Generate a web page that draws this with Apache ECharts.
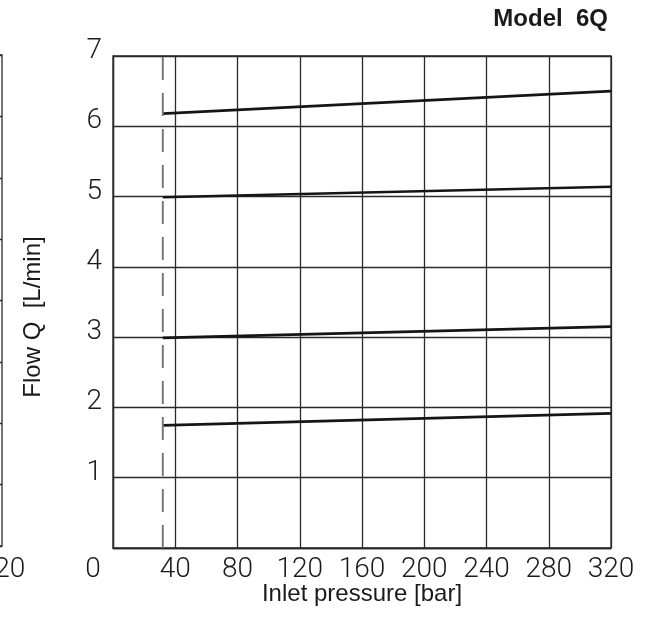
<!DOCTYPE html>
<html>
<head>
<meta charset="utf-8">
<script src="https://cdn.jsdelivr.net/npm/echarts@6/dist/echarts.min.js"></script>
<style>
html,body{margin:0;padding:0;background:#fff;}
#chart{width:645px;height:621px;}
</style>
</head>
<body>
<div id="chart"></div>
<script>
// ---- data ----
const titleText = 'Model  6Q';
const xName = 'Inlet pressure [bar]';
const yName = 'Flow Q  [L/min]';
const xTicks = [0, 40, 80, 120, 160, 200, 240, 280, 320];
const yTicks = [0, 1, 2, 3, 4, 5, 6, 7];
const pressureRange = [32, 320];
const flowA = [6.18, 6.50];
const flowB = [4.99, 5.14];
const flowC = [2.99, 3.15];
const flowD = [1.745, 1.915];
const minPressure = 32;
// neighbouring (cut-off) chart at the left edge
const neighbourXMax = 120;
const neighbourYMax = 8;

const tickFont = 'Roboto';
const textFont = '"Liberation Sans", Arial, sans-serif';
const gridColor = '#2a2a2a';

function curve(vals) { return pressureRange.map((p, i) => [p, vals[i]]); }
const lineStyle = { color: '#151515', width: 2.6 };
const tickText = { fontFamily: tickFont, fontWeight: 300, fontSize: 28, color: '#1a1a1a' };

const chart = echarts.init(document.getElementById('chart'), null, { renderer: 'canvas' });
chart.setOption({
  animation: false,
  backgroundColor: '#fff',
  title: {
    text: titleText, right: 32, top: 2,
    textStyle: { fontFamily: textFont, fontWeight: 'bold', fontSize: 24, color: '#1a1a1a' }
  },
  grid: [
    { left: 113, right: 34, top: 56, bottom: 73, show: true, borderColor: gridColor, borderWidth: 1.3, outerBoundsMode: 'none', containLabel: false },
    { left: -300, right: 643, top: 55, bottom: 75, show: true, borderColor: gridColor, borderWidth: 1.3, outerBoundsMode: 'none', containLabel: false }
  ],
  xAxis: [
    {
      type: 'value', gridIndex: 0, min: xTicks[0], max: xTicks[xTicks.length - 1], interval: 40,
      name: xName, nameLocation: 'middle', nameGap: 34, nameMoveOverlap: false,
      nameTextStyle: { fontFamily: textFont, fontSize: 24, color: '#1a1a1a' },
      axisLine: { show: true, lineStyle: { color: gridColor, width: 1.3 } },
      axisTick: { show: false },
      splitLine: { show: true, lineStyle: { color: gridColor, width: 1.3 } },
      axisLabel: Object.assign({ margin: 8 }, tickText, {
        formatter: v => v === 0 ? '{z|0}' : String(v),
        rich: { z: Object.assign({}, tickText, { padding: [0, 40, 0, 0] }) }
      })
    },
    {
      type: 'value', gridIndex: 1, min: 0, max: neighbourXMax, interval: neighbourXMax,
      axisLine: { show: false }, axisTick: { show: false }, splitLine: { show: false },
      axisLabel: Object.assign({ margin: 10 }, tickText)
    }
  ],
  yAxis: [
    {
      type: 'value', gridIndex: 0, min: yTicks[0], max: yTicks[yTicks.length - 1], interval: 1,
      name: yName, nameLocation: 'middle', nameGap: 68, nameRotate: 90, nameMoveOverlap: false,
      nameTextStyle: { fontFamily: textFont, fontSize: 24, color: '#1a1a1a', padding: [0, 30, 0, 0] },
      axisLine: { show: true, lineStyle: { color: gridColor, width: 1.3 } },
      axisTick: { show: false },
      splitLine: { show: true, lineStyle: { color: gridColor, width: 1.3 } },
      axisLabel: Object.assign({ margin: 11 }, tickText, {
        formatter: v => v === 0 ? '' : '{u|' + v + '}',
        rich: { u: Object.assign({}, tickText, { padding: [0, 0, 10, 0] }) }
      })
    },
    {
      type: 'value', gridIndex: 1, min: 0, max: neighbourYMax, interval: 1,
      axisLine: { show: false }, axisTick: { show: false }, axisLabel: { show: false },
      splitLine: { show: true, lineStyle: { color: gridColor, width: 1.3 } }
    }
  ],
  series: [
    { type: 'line', xAxisIndex: 0, yAxisIndex: 0, data: curve(flowA), symbol: 'none', lineStyle: lineStyle, silent: true },
    { type: 'line', xAxisIndex: 0, yAxisIndex: 0, data: curve(flowB), symbol: 'none', lineStyle: lineStyle, silent: true },
    { type: 'line', xAxisIndex: 0, yAxisIndex: 0, data: curve(flowC), symbol: 'none', lineStyle: lineStyle, silent: true },
    { type: 'line', xAxisIndex: 0, yAxisIndex: 0, data: curve(flowD), symbol: 'none', lineStyle: lineStyle, silent: true },
    {
      type: 'line', xAxisIndex: 0, yAxisIndex: 0, symbol: 'none', silent: true,
      data: [[minPressure, yTicks[0]], [minPressure, yTicks[yTicks.length - 1]]],
      lineStyle: { color: '#777', width: 2, type: [23, 13] }
    }
  ]
});
</script>
</body>
</html>
